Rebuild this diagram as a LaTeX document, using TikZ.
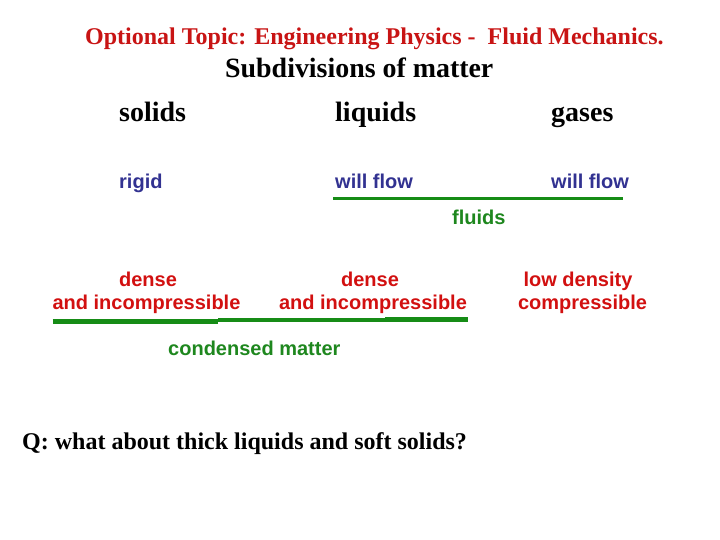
\documentclass[tikz,border=0pt]{standalone}
\usepackage{fontspec}
\setmainfont{Liberation Serif}
\setsansfont{Liberation Sans}
\definecolor{titlered}{RGB}{200,20,20}
\definecolor{txtred}{RGB}{210,16,16}
\definecolor{navy}{RGB}{50,50,145}
\definecolor{grn}{RGB}{22,140,22}
\definecolor{grntxt}{RGB}{30,135,30}
\tikzset{
  lbl/.style={inner sep=0pt, anchor=base west},
  clbl/.style={inner sep=0pt, anchor=base},
  serifb/.style={font=\fontsize{#1}{#1}\selectfont\bfseries},
  sansb/.style={font=\fontsize{20}{20}\selectfont\sffamily\bfseries},
  gline/.style={draw=grn, line width=#1},
}
\begin{document}
\begin{tikzpicture}[x=1pt,y=-1pt]
\useasboundingbox (0,0) rectangle (720,540);
% titles
\node[lbl, serifb=24, text=titlered] (t1) at (85,45) {Optional Topic: Engineering Physics -\ \ Fluid Mechanics.};
\node[lbl, serifb=27.9] (t2) at (225,78) {Subdivisions of matter};
% column heads
\node[lbl, serifb=28] (sol) at (119,122) {solids};
\node[lbl, serifb=28] (liq) at (335,122) {liquids};
\node[lbl, serifb=28] (gas) at (551,122) {gases};
% properties
\node[lbl, sansb, text=navy] (rig) at (119,188.5) {rigid};
\node[lbl, sansb, text=navy] (wf1) at (335,188.5) {will flow};
\node[lbl, sansb, text=navy] (wf2) at (551,188.5) {will flow};
% fluids line
\coordinate (fa) at (333,198.5);
\coordinate (fb) at (623,198.5);
\draw[gline=3.2pt] (fa) -- (fb);
\node[lbl, sansb, text=grntxt] (flu) at (452,224.5) {fluids};
% densities
\node[clbl, sansb, text=txtred] (d1) at (148,286.5) {dense};
\node[clbl, sansb, text=txtred] (i1) at (146.5,309.5) {and incompressible};
\node[clbl, sansb, text=txtred] (d2) at (370,286.5) {dense};
\node[clbl, sansb, text=txtred] (i2) at (373,309.5) {and incompressible};
\node[clbl, sansb, text=txtred] (ld) at (578,286.5) {low density};
\node[clbl, sansb, text=txtred] (cp) at (582.5,309.5) {compressible};
% condensed matter line
\coordinate (ca) at (52.5,321);
\coordinate (cb) at (218,321);
\coordinate (cc) at (218,319.8);
\coordinate (cd) at (385,319.8);
\coordinate (ce) at (385,319.7);
\coordinate (cf) at (467.5,319.7);
\draw[gline=5pt] (ca) -- (cb);
\draw[gline=4.6pt] (cc) -- (cd);
\draw[gline=5.4pt] (ce) -- (cf);
\node[lbl, sansb, text=grntxt] (cm) at (168,355.5) {condensed matter};
% question
\node[lbl, serifb=24] (q) at (22,449.5) {Q: what about thick liquids and soft solids?};
\end{tikzpicture}
\end{document}
